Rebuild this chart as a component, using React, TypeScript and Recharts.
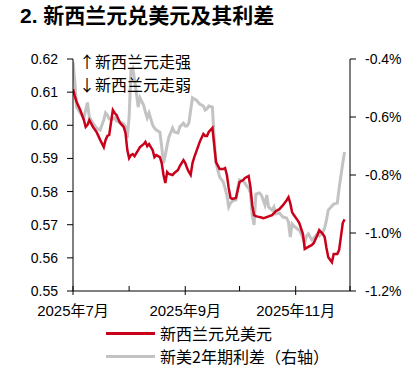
import React from 'react';
import { LineChart, Line, XAxis, YAxis } from 'recharts';

const dates = [
  '2025-07-01', '2025-07-02', '2025-07-03', '2025-07-05', '2025-07-07', '2025-07-08', '2025-07-09', '2025-07-10',
  '2025-07-12', '2025-07-14', '2025-07-16', '2025-07-18', '2025-07-19', '2025-07-20', '2025-07-21', '2025-07-23',
  '2025-07-24', '2025-07-25', '2025-07-27', '2025-07-29', '2025-07-30', '2025-07-31', '2025-08-01', '2025-08-02',
  '2025-08-03', '2025-08-04', '2025-08-05', '2025-08-06', '2025-08-07', '2025-08-09', '2025-08-10', '2025-08-11',
  '2025-08-12', '2025-08-14', '2025-08-15', '2025-08-16', '2025-08-18', '2025-08-19', '2025-08-20', '2025-08-21',
  '2025-08-22', '2025-08-23', '2025-08-25', '2025-08-26', '2025-08-28', '2025-08-29', '2025-08-31', '2025-09-01',
  '2025-09-02', '2025-09-03', '2025-09-04', '2025-09-05', '2025-09-06', '2025-09-07', '2025-09-09', '2025-09-11',
  '2025-09-12', '2025-09-13', '2025-09-14', '2025-09-16', '2025-09-17', '2025-09-18', '2025-09-20', '2025-09-22',
  '2025-09-23', '2025-09-24', '2025-09-25', '2025-09-26', '2025-09-27', '2025-09-29', '2025-09-30', '2025-10-01',
  '2025-10-03', '2025-10-04', '2025-10-05', '2025-10-06', '2025-10-07', '2025-10-08', '2025-10-09', '2025-10-10',
  '2025-10-12', '2025-10-13', '2025-10-14', '2025-10-15', '2025-10-16', '2025-10-17', '2025-10-19', '2025-10-20',
  '2025-10-21', '2025-10-23', '2025-10-25', '2025-10-27', '2025-10-28', '2025-10-29', '2025-10-30', '2025-10-31',
  '2025-11-02', '2025-11-03', '2025-11-05', '2025-11-06', '2025-11-07', '2025-11-08', '2025-11-10', '2025-11-11',
  '2025-11-13', '2025-11-14', '2025-11-16', '2025-11-17', '2025-11-18', '2025-11-19', '2025-11-21', '2025-11-22',
  '2025-11-24', '2025-11-25', '2025-11-27', '2025-11-28',
];

// 新西兰元兑美元
const nzdUsd = [
  0.6109, 0.6088, 0.6070, 0.6046, 0.6016, 0.5995, 0.6001, 0.6016,
  0.5995, 0.5980, 0.5956, 0.5934, 0.5956, 0.5968, 0.5971, 0.6046,
  0.6037, 0.6031, 0.6007, 0.5995, 0.5977, 0.5925, 0.5901, 0.5910,
  0.5913, 0.5907, 0.5916, 0.5925, 0.5934, 0.5943, 0.5950, 0.5937,
  0.5943, 0.5925, 0.5904, 0.5910, 0.5904, 0.5886, 0.5850, 0.5826,
  0.5859, 0.5853, 0.5850, 0.5856, 0.5865, 0.5877, 0.5895, 0.5886,
  0.5871, 0.5859, 0.5850, 0.5886, 0.5904, 0.5919, 0.5950, 0.5974,
  0.5968, 0.5968, 0.5980, 0.5992, 0.5940, 0.5889, 0.5868, 0.5868,
  0.5871, 0.5850, 0.5811, 0.5781, 0.5778, 0.5781, 0.5805, 0.5829,
  0.5835, 0.5841, 0.5844, 0.5847, 0.5814, 0.5759, 0.5729, 0.5726,
  0.5723, 0.5722, 0.5720, 0.5721, 0.5723, 0.5725, 0.5729, 0.5735,
  0.5741, 0.5747, 0.5759, 0.5774, 0.5783, 0.5765, 0.5738, 0.5729,
  0.5714, 0.5705, 0.5672, 0.5627, 0.5630, 0.5633, 0.5639, 0.5645,
  0.5669, 0.5684, 0.5672, 0.5663, 0.5630, 0.5602, 0.5587, 0.5612,
  0.5612, 0.5624, 0.5705, 0.5716,
];

// 新美2年期利差（%）
const spread = [
  -0.410, -0.479, -0.566, -0.586, -0.603, -0.576, -0.550, -0.600,
  -0.621, -0.638, -0.645, -0.610, -0.586, -0.593, -0.607, -0.607,
  -0.603, -0.614, -0.617, -0.624, -0.634, -0.672, -0.600, -0.438,
  -0.431, -0.472, -0.517, -0.566, -0.534, -0.559, -0.583, -0.603,
  -0.586, -0.628, -0.638, -0.645, -0.652, -0.703, -0.759, -0.731,
  -0.697, -0.669, -0.638, -0.652, -0.655, -0.634, -0.621, -0.631,
  -0.631, -0.621, -0.576, -0.534, -0.538, -0.541, -0.555, -0.562,
  -0.576, -0.572, -0.562, -0.566, -0.679, -0.759, -0.807, -0.824,
  -0.845, -0.869, -0.910, -0.897, -0.890, -0.886, -0.845, -0.817,
  -0.821, -0.828, -0.838, -0.845, -0.862, -0.938, -0.972, -0.866,
  -0.862, -0.869, -0.885, -0.903, -0.869, -0.910, -0.921, -0.910,
  -0.934, -0.931, -0.945, -0.948, -0.962, -1.014, -0.969, -0.976,
  -0.986, -0.990, -1.017, -1.034, -1.010, -1.003, -1.024, -1.017,
  -1.003, -1.010, -0.997, -0.983, -0.955, -0.921, -0.907, -0.900,
  -0.897, -0.845, -0.759, -0.721,
];

const monthTicks = ['2025-07-01', '2025-08-01', '2025-09-01', '2025-10-01', '2025-11-01', '2025-12-01'];
const labelledMonths = ['2025-07-01', '2025-09-01', '2025-11-01'];
const leftTicks = [0.55, 0.56, 0.57, 0.58, 0.59, 0.6, 0.61, 0.62];
const rightTicks = [-1.2, -1.0, -0.8, -0.6, -0.4];

const RED = '#C8001A';
const GRAY = '#C3C3C3';
const FONT = '"Liberation Sans", Arial, "Noto Sans CJK SC", sans-serif';
const CJK = '"Noto Sans CJK SC", "Liberation Sans", sans-serif';

const dayOf = (s: string) => {
  const [y, m, d] = s.split('-').map(Number);
  return (Date.UTC(y, m - 1, d) - Date.UTC(2025, 6, 1)) / 86400000;
};

const data = dates.map((d, i) => ({ day: dayOf(d), nzd: nzdUsd[i], spread: spread[i] }));
const tickDays = monthTicks.map(dayOf);
const labelDays = labelledMonths.map(dayOf);

const monthLabel = (day: number) => {
  const s = monthTicks[tickDays.indexOf(day)];
  const [y, m] = s.split('-').map(Number);
  return `${y}年${m}月`;
};

const XTick = (props: any) => {
  const { x, y, payload } = props;
  const labelled = labelDays.includes(payload.value);
  return (
    <g>
      <line x1={x} x2={x} y1={y - 5} y2={labelled ? y + 4 : y} stroke="#000" strokeWidth={1} />
      {labelled && (
        <text x={x} y={y + 25} textAnchor="middle" fontSize={15} fill="#000" fontFamily={FONT}>
          {monthLabel(payload.value)}
        </text>
      )}
    </g>
  );
};

const LegendItem = ({ color, label, top }: { color: string; label: string; top: number }) => (
  <div style={{ position: 'absolute', left: 106, top, height: 20, display: 'flex', alignItems: 'center' }}>
    <span style={{ width: 49, height: 3, background: color, display: 'inline-block' }} />
    <span style={{ marginLeft: 5, fontSize: 16, fontFamily: CJK, color: '#000', lineHeight: '20px' }}>{label}</span>
  </div>
);

export default function App() {
  return (
    <div style={{ position: 'absolute', left: 0, top: 0, width: 417, height: 371, background: '#fff', overflow: 'hidden' }}>
      <div style={{ position: 'absolute', left: 20, top: 3, fontSize: 21, fontWeight: 700, fontFamily: FONT, color: '#000', lineHeight: '26px', whiteSpace: 'nowrap' }}>
        2. 新西兰元兑美元及其利差
      </div>
      <div style={{ position: 'absolute', left: 0, top: 0 }}>
        <LineChart width={417} height={330} data={data} margin={{ top: 59, right: 7, bottom: 9, left: 13 }}>
          <XAxis
            dataKey="day"
            type="number"
            domain={[0, 153]}
            ticks={tickDays}
            interval={0}
            tick={<XTick />}
            tickLine={false}
            tickSize={0}
            tickMargin={0}
            height={30}
            stroke="#000"
            allowDataOverflow
          />
          <YAxis
            yAxisId="left"
            domain={[0.55, 0.62]}
            ticks={leftTicks}
            interval={0}
            tickFormatter={(v: number) => v.toFixed(2)}
            width={60}
            tickSize={6}
            tickMargin={9}
            stroke="#000"
            tick={{ fill: '#000', fontSize: 14, fontFamily: FONT }}
            allowDataOverflow
          />
          <YAxis
            yAxisId="right"
            orientation="right"
            domain={[-1.2, -0.4]}
            ticks={rightTicks}
            interval={0}
            tickFormatter={(v: number) => `${v.toFixed(1)}%`}
            width={60}
            tickSize={6}
            tickMargin={9}
            stroke="#000"
            tick={{ fill: '#000', fontSize: 14, fontFamily: FONT, textAnchor: 'start' }}
            allowDataOverflow
          />
          <Line
            yAxisId="right"
            dataKey="spread"
            stroke={GRAY}
            strokeWidth={3}
            dot={false}
            type="linear"
            isAnimationActive={false}
          />
          <Line
            yAxisId="left"
            dataKey="nzd"
            stroke={RED}
            strokeWidth={2.5}
            dot={false}
            type="linear"
            isAnimationActive={false}
          />
        </LineChart>
      </div>
      <div style={{ position: 'absolute', left: 79, top: 50, fontSize: 16, fontFamily: CJK, color: '#000', lineHeight: '23px', whiteSpace: 'nowrap' }}>
        <div>↑新西兰元走强</div>
        <div>↓新西兰元走弱</div>
      </div>
      <LegendItem color={RED} label="新西兰元兑美元" top={323} />
      <LegendItem color={GRAY} label="新美2年期利差（右轴）" top={346} />
    </div>
  );
}
